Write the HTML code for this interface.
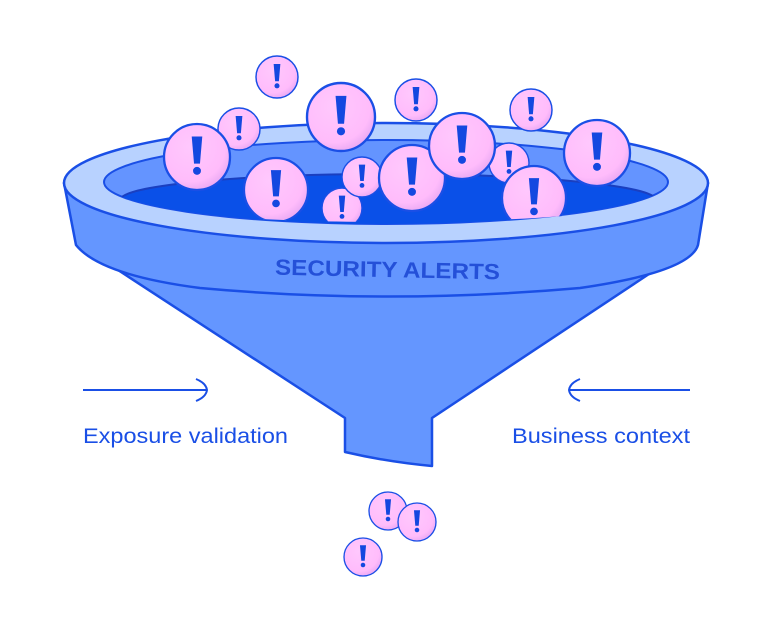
<!DOCTYPE html>
<html><head><meta charset="utf-8"><style>
html,body{margin:0;padding:0;background:#fff;width:778px;height:624px;overflow:hidden}
svg{display:block}
</style></head><body>
<svg width="778" height="624" viewBox="0 0 778 624" xmlns="http://www.w3.org/2000/svg">
<defs>
<radialGradient id="pg" cx="0.4" cy="0.35" r="0.7">
<stop offset="0" stop-color="#ffc8fd"/><stop offset="0.75" stop-color="#ffbcfb"/><stop offset="1" stop-color="#e6a6f2"/>
</radialGradient>
<clipPath id="holeclip">
<rect x="0" y="0" width="778" height="198"/>
<ellipse cx="388" cy="198" rx="265" ry="24"/>
</clipPath>
<clipPath id="innerclip"><ellipse cx="386" cy="182" rx="282" ry="42"/></clipPath>
<g id="b">
<circle r="1" fill="url(#pg)" stroke="#1a4fe6" stroke-width="0.07"/>
<path d="M-0.16,-0.62 L0.16,-0.62 L0.09,0.2 L-0.09,0.2 Z" fill="#1448e0"/>
<circle cx="0" cy="0.42" r="0.12" fill="#1448e0"/>
</g>
</defs>
<path d="M118,270 L345,418 L345,452 Q388,462 432,466 L432,418 L655,270 Z" fill="#6496ff" stroke="#1a4fe6" stroke-width="2.5" stroke-linejoin="round"/>
<path d="M64,183 L76,245 Q100,275 200,288 Q386,305 580,288 Q690,272 698,245 L708,183 Z" fill="#6496ff" stroke="#1a4fe6" stroke-width="2.5" stroke-linejoin="round"/>
<ellipse cx="386" cy="183" rx="322" ry="60" fill="#b8d2ff" stroke="#1a4fe6" stroke-width="2.5"/>
<ellipse cx="386" cy="182" rx="282" ry="42" fill="#6494ff" stroke="#1a4fe6" stroke-width="2"/>
<g clip-path="url(#innerclip)"><ellipse cx="388" cy="200" rx="268" ry="26" fill="#0a50e8" stroke="#1a3fc0" stroke-width="2"/></g>
<g>
<use href="#b" transform="translate(277,77) scale(21)"/>
<use href="#b" transform="translate(239,129) scale(21)"/>
<use href="#b" transform="translate(416,100) scale(21)"/>
<use href="#b" transform="translate(531,110) scale(21)"/>
<use href="#b" transform="translate(341,117) scale(34)"/>
<use href="#b" transform="translate(197,157) scale(33)"/>
<use href="#b" transform="translate(597,153) scale(33)"/>
</g>
<g clip-path="url(#holeclip)">
<use href="#b" transform="translate(509,163) scale(20)"/>
<use href="#b" transform="translate(342,208) scale(20)"/>
<use href="#b" transform="translate(276,190) scale(32)"/>
<use href="#b" transform="translate(362,177) scale(20)"/>
<use href="#b" transform="translate(412,178) scale(33)"/>
<use href="#b" transform="translate(462,146) scale(33)"/>
<use href="#b" transform="translate(534,198) scale(32)"/>
</g>
<text x="275" y="277" textLength="225" lengthAdjust="spacingAndGlyphs" font-family="Liberation Sans, sans-serif" font-weight="bold" font-size="22" fill="#2450d8" transform="rotate(1.2 387 270)">SECURITY ALERTS</text>
<g stroke="#1a4fe6" stroke-width="2" fill="none">
<line x1="83" y1="390" x2="206" y2="390"/>
<path d="M196,379 Q206,383 207,390 Q206,397 196,401"/>
<line x1="570" y1="390" x2="690" y2="390"/>
<path d="M580,379 Q570,383 569,390 Q570,397 580,401"/>
</g>
<g font-family="Liberation Sans, sans-serif" font-size="21" fill="#1a4fe6">
<text x="83" y="443" textLength="205" lengthAdjust="spacingAndGlyphs">Exposure validation</text>
<text x="512" y="443" textLength="178" lengthAdjust="spacingAndGlyphs">Business context</text>
</g>
<use href="#b" transform="translate(388,511) scale(19)"/>
<use href="#b" transform="translate(417,522) scale(19)"/>
<use href="#b" transform="translate(363,557) scale(19)"/>
</svg>
</body></html>
